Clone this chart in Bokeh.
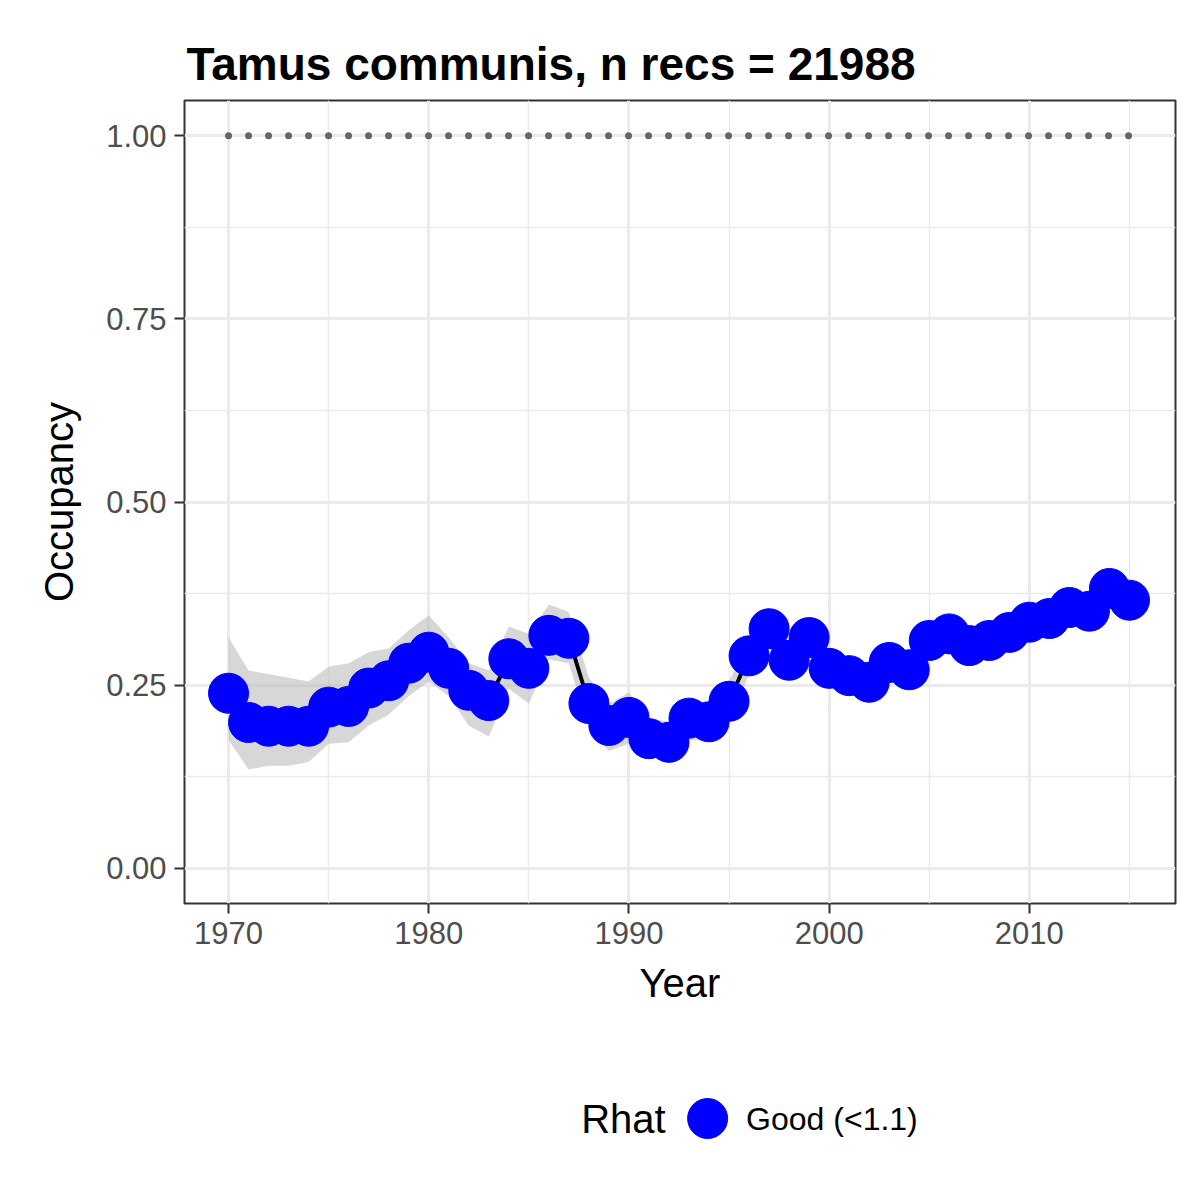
from bokeh.plotting import figure
from bokeh.layouts import column
from bokeh.models import FixedTicker, Range1d
from bokeh.embed import file_html
from bokeh.resources import INLINE
from bokeh.core.properties import value

years = list(range(1970, 2016))
occ = [0.239,0.199,0.194,0.194,0.194,0.22,0.221,0.246,0.256,0.28,0.295,0.273,0.243,0.229,0.286,0.273,
       0.318,0.314,0.225,0.195,0.206,0.177,0.172,0.205,0.2,0.228,0.29,0.327,0.284,0.315,0.273,0.263,
       0.254,0.281,0.271,0.311,0.32,0.304,0.311,0.322,0.336,0.341,0.356,0.351,0.382,0.366]
upper = [0.315,0.27,0.265,0.26,0.255,0.275,0.28,0.295,0.30,0.325,0.345,0.315,0.28,0.27,0.33,0.32,
         0.36,0.35,0.26,0.225,0.24,0.205,0.2,0.23,0.225,0.255,0.315,0.35,0.305,0.335,0.293,0.283,
         0.274,0.301,0.291,0.331,0.34,0.324,0.331,0.342,0.356,0.361,0.376,0.371,0.402,0.386]
lower = [0.175,0.135,0.14,0.14,0.145,0.17,0.172,0.195,0.21,0.235,0.255,0.235,0.195,0.18,0.245,0.225,
         0.285,0.28,0.19,0.16,0.17,0.155,0.15,0.175,0.175,0.2,0.265,0.3,0.26,0.295,0.253,0.243,
         0.234,0.261,0.251,0.291,0.3,0.284,0.291,0.302,0.316,0.321,0.336,0.331,0.362,0.346]
ref_level = [1.0] * len(years)
title = "Tamus communis, n recs = 21988"
legend_title = "Rhat"
legend_label = "Good (<1.1)"

FONT = "Liberation Sans"
p = figure(width=1184, height=1050, output_backend="svg", toolbar_location=None,
           x_range=Range1d(1967.8, 2017.3), y_range=Range1d(-0.048, 1.048),
           min_border_left=184, min_border_right=9, min_border_top=100, min_border_bottom=147)
p.title.text = title
p.title.text_font = FONT
p.title.text_font_size = "46px"
p.title.text_font_style = "bold"
p.title.text_color = "black"
p.title.offset = 2
p.title.standoff = 22
p.outline_line_color = "#333333"
p.outline_line_width = 2
p.background_fill_color = "white"

p.varea(x=years, y1=lower, y2=upper, fill_color="#bdbdbd", fill_alpha=0.6)
p.line(years, ref_level, line_color="#666666", line_width=7, line_dash="0 20", line_cap="round")
p.line(years, occ, line_color="black", line_width=4)
p.scatter(years, occ, size=40, color="blue")

p.xaxis.ticker = FixedTicker(ticks=[1970, 1980, 1990, 2000, 2010], minor_ticks=[1975, 1985, 1995, 2005, 2015])
p.yaxis.ticker = FixedTicker(ticks=[0, 0.25, 0.5, 0.75, 1.0], minor_ticks=[0.125, 0.375, 0.625, 0.875])
p.yaxis.major_label_overrides = {0: "0.00", 0.25: "0.25", 0.5: "0.50", 0.75: "0.75", 1.0: "1.00"}
p.xaxis.axis_label = "Year"
p.yaxis.axis_label = "Occupancy"
for ax in (p.xaxis, p.yaxis):
    ax.axis_label_text_font = FONT
    ax.axis_label_text_font_size = "40px"
    ax.axis_label_text_font_style = "normal"
    ax.axis_label_text_color = "black"
    ax.major_label_text_font = FONT
    ax.major_label_text_font_size = "31px"
    ax.major_label_text_color = "#4d4d4d"
    ax.major_label_standoff = 8
    ax.axis_line_color = None
    ax.major_tick_line_color = "#333333"
    ax.major_tick_line_width = 2
    ax.major_tick_out = 10
    ax.major_tick_in = 0
    ax.minor_tick_line_color = None
p.xaxis.axis_label_standoff = 14
p.yaxis.axis_label_standoff = 22
for g in (p.xgrid, p.ygrid):
    g.grid_line_color = "#ebebeb"
    g.grid_line_width = 3
    g.minor_grid_line_color = "#ebebeb"
    g.minor_grid_line_width = 1.5

lg = figure(width=1184, height=134, output_backend="svg", toolbar_location=None,
            x_range=Range1d(0, 1184), y_range=Range1d(0, 134), min_border=0,
            x_axis_location=None, y_axis_location=None)
lg.grid.visible = False
lg.outline_line_color = None
lg.text([474], [66], text=[legend_title], text_font=value(FONT), text_font_size="40px",
        text_baseline="middle")
lg.scatter([625], [66], size=40, color="blue")
lg.text([671], [66], text=[legend_label], text_font=value(FONT), text_font_size="32px",
        text_baseline="middle")

open("out.html", "w").write(file_html(column(p, lg, spacing=0), INLINE))
